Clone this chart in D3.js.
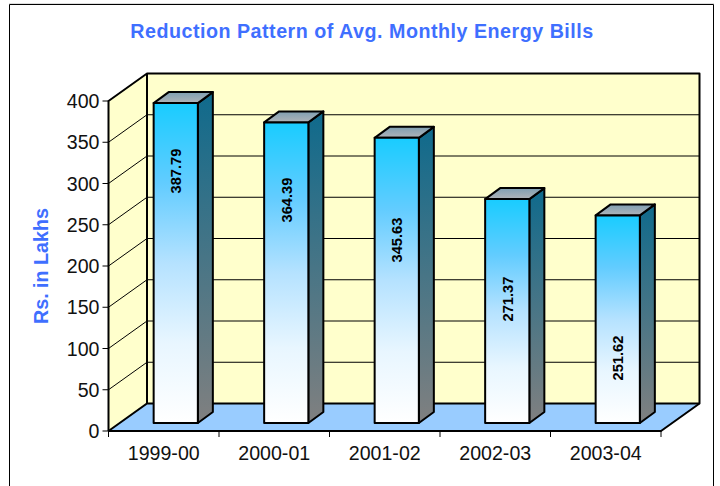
<!DOCTYPE html>
<html>
<head>
<meta charset="utf-8">
<script src="https://cdn.jsdelivr.net/npm/d3@7"></script>
<style>
  html, body { margin: 0; padding: 0; background: #fff; }
  svg { display: block; font-family: "Liberation Sans", Arial, sans-serif; }
</style>
</head>
<body>
<div id="chart"></div>
<script>
const categories = ["1999-00", "2000-01", "2001-02", "2002-03", "2003-04"];
const values = [387.79, 364.39, 345.63, 271.37, 251.62];
const valueLabels = ["387.79", "364.39", "345.63", "271.37", "251.62"];
const yTicks = [0, 50, 100, 150, 200, 250, 300, 350, 400];

const width = 720;
const height = 486;

// front edge of the floor and how far the back wall is pushed
const x0 = 108.5, x1 = 661, yBottom = 431, yTop = 101;
const wallDx = 38.5, wallDy = -27.5;
const barFrontDx = 12, barFrontDy = -8;
const barDx = 15, barDy = -11;

// labels do not sit in the bar centres, excel put them where it liked
const labelCenter = [171, 200, 240, 299, 358];

const svg = d3.select("#chart").append("svg")
    .attr("width", width)
    .attr("height", height);

const defs = svg.append("defs");
function gradient(id, stops) {
  const g = defs.append("linearGradient").attr("id", id)
      .attr("x1", 0).attr("y1", 0).attr("x2", 0).attr("y2", 1);
  stops.forEach(s => g.append("stop").attr("offset", s[0]).attr("stop-color", s[1]));
}
gradient("front", [[0, "#19ccff"], [0.25, "#62ccff"], [0.5, "#b5e2ff"], [0.75, "#e8f6ff"], [1, "#ffffff"]]);
gradient("side", [[0, "#0f6a8c"], [1, "#808080"]]);
gradient("cap", [[0, "#7f9fb2"], [1, "#b0b4b8"]]);

const x = d3.scaleBand()
    .domain(categories)
    .range([x0, x1])
    .paddingInner(0.6)
    .paddingOuter(0.3);

const y = d3.scaleLinear()
    .domain([0, 400])
    .range([yBottom, yTop]);

const line = d3.line();

// outer frame, open at the bottom of the page
svg.append("path")
    .attr("d", line([[9.5, height], [9.5, 4.5], [713.5, 4.5], [713.5, height]]))
    .attr("fill", "none")
    .attr("stroke", "#000")
    .attr("stroke-width", 1);
svg.append("line")
    .attr("x1", 9).attr("x2", 714).attr("y1", 3.5).attr("y2", 3.5)
    .attr("stroke", "#ddd");

svg.append("text")
    .attr("x", 362)
    .attr("y", 37.5)
    .attr("text-anchor", "middle")
    .attr("font-size", 19.7)
    .attr("font-weight", "bold")
    .attr("letter-spacing", 0.5)
    .attr("fill", "#3f6fff")
    .text("Reduction Pattern of Avg. Monthly Energy Bills");

svg.append("text")
    .attr("transform", "translate(48,266) rotate(-90)")
    .attr("text-anchor", "middle")
    .attr("font-size", 19.7)
    .attr("font-weight", "bold")
    .attr("fill", "#3f6fff")
    .text("Rs. in Lakhs");

// walls and floor
svg.append("path")
    .attr("d", line([[x0 + wallDx, y(400) + wallDy], [x1 + wallDx, y(400) + wallDy],
      [x1 + wallDx, y(0) + wallDy], [x0 + wallDx, y(0) + wallDy]]) + "Z")
    .attr("fill", "#ffffcc");
svg.append("path")
    .attr("d", line([[x0, y(400)], [x0 + wallDx, y(400) + wallDy],
      [x0 + wallDx, y(0) + wallDy], [x0, y(0)]]) + "Z")
    .attr("fill", "#ffffcc");
svg.append("path")
    .attr("d", line([[x0, y(0)], [x0 + wallDx, y(0) + wallDy],
      [x1 + wallDx, y(0) + wallDy], [x1, y(0)]]) + "Z")
    .attr("fill", "#99ccff");

// gridlines on both walls
svg.append("g")
    .selectAll("path")
    .data(yTicks.filter(d => d > 0 && d < 400))
    .join("path")
      .attr("d", d => line([[x0, y(d)], [x0 + wallDx, y(d) + wallDy], [x1 + wallDx, y(d) + wallDy]]))
      .attr("fill", "none")
      .attr("stroke", "#000")
      .attr("stroke-width", 1);

// heavy wall outline
svg.append("path")
    .attr("d", line([[x0, y(0)], [x0, y(400)], [x0 + wallDx, y(400) + wallDy],
      [x1 + wallDx, y(400) + wallDy], [x1 + wallDx, y(0) + wallDy], [x1, y(0)], [x0, y(0)]]))
    .attr("fill", "none")
    .attr("stroke", "#000")
    .attr("stroke-width", 2)
    .attr("stroke-linejoin", "round");
svg.append("path")
    .attr("d", line([[x0, y(0)], [x0 + wallDx, y(0) + wallDy], [x1 + wallDx, y(0) + wallDy]]))
    .attr("fill", "none")
    .attr("stroke", "#000")
    .attr("stroke-width", 2);
svg.append("path")
    .attr("d", line([[x0 + wallDx, y(400) + wallDy], [x0 + wallDx, y(0) + wallDy]]))
    .attr("fill", "none")
    .attr("stroke", "#000")
    .attr("stroke-width", 2);

// axes
const xEdges = categories.map(d => x(d) - x.step() * 0.3).concat(x1);
svg.append("g")
    .selectAll("line")
    .data(xEdges)
    .join("line")
      .attr("x1", d => d).attr("x2", d => d)
      .attr("y1", yBottom).attr("y2", yBottom + 6)
      .attr("stroke", "#000");

svg.append("g")
    .selectAll("line")
    .data(yTicks)
    .join("line")
      .attr("x1", x0 - 6).attr("x2", x0)
      .attr("y1", d => y(d)).attr("y2", d => y(d))
      .attr("stroke", "#000");

svg.append("g")
    .selectAll("text")
    .data(yTicks)
    .join("text")
      .attr("x", x0 - 9)
      .attr("y", d => y(d) + 7)
      .attr("text-anchor", "end")
      .attr("font-size", 19.6)
      .attr("fill", "#111")
      .text(d => d);

svg.append("g")
    .selectAll("text")
    .data(categories)
    .join("text")
      .attr("x", d => x(d) + x.bandwidth() / 2)
      .attr("y", 460)
      .attr("text-anchor", "middle")
      .attr("font-size", 19.6)
      .attr("fill", "#111")
      .text(d => d);

// bars
const bars = svg.append("g")
    .selectAll("g")
    .data(categories.map((c, i) => ({ c, v: values[i], label: valueLabels[i], center: labelCenter[i] })))
    .join("g")
      .attr("stroke", "#000")
      .attr("stroke-width", 2)
      .attr("stroke-linejoin", "round");

const bl = d => x(d.c) + barFrontDx;
const br = d => bl(d) + x.bandwidth();
const bb = () => y(0) + barFrontDy;
const bt = d => y(d.v) + barFrontDy;

bars.append("path")
    .attr("fill", "url(#side)")
    .attr("d", d => line([[br(d), bt(d)], [br(d) + barDx, bt(d) + barDy],
      [br(d) + barDx, bb() + barDy], [br(d), bb()]]) + "Z");

bars.append("path")
    .attr("fill", "url(#cap)")
    .attr("d", d => line([[bl(d), bt(d)], [bl(d) + barDx, bt(d) + barDy],
      [br(d) + barDx, bt(d) + barDy], [br(d), bt(d)]]) + "Z");

bars.append("path")
    .attr("fill", "url(#front)")
    .attr("d", d => line([[bl(d), bt(d)], [br(d), bt(d)], [br(d), bb()], [bl(d), bb()]]) + "Z");

bars.append("text")
    .attr("transform", d => `translate(${(bl(d) + br(d)) / 2 + 5.5},${d.center}) rotate(-90)`)
    .attr("text-anchor", "middle")
    .attr("font-size", 14.7)
    .attr("font-weight", "bold")
    .attr("stroke", "none")
    .attr("fill", "#000")
    .text(d => d.label);
</script>
</body>
</html>
